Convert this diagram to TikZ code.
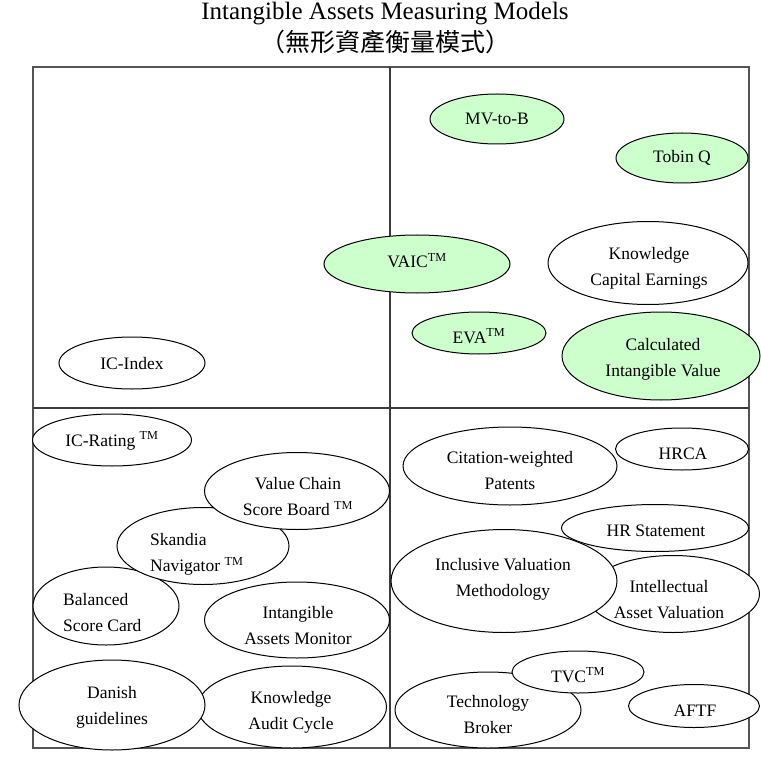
\documentclass[tikz,border=0pt]{standalone}
\usepackage{fontspec}
\setmainfont{Liberation Serif}
\newfontfamily\cjkfont{Noto Sans CJK TC}
\usetikzlibrary{shapes.geometric}
\definecolor{lgreen}{RGB}{204,255,204}
\definecolor{framegray}{RGB}{85,85,85}
\definecolor{divgray}{RGB}{60,60,60}
\newcommand{\twoc}[2]{\begin{tabular}[t]{@{}c@{}}#1\\#2\end{tabular}}
\newcommand{\twoleft}[2]{\begin{tabular}[t]{@{}l@{}}#1\\#2\end{tabular}}
\begin{document}
\begin{tikzpicture}[x=1pt,y=-1pt,
  oval/.style={ellipse, draw=black, line width=1pt, inner sep=0pt, fill=white},
  goval/.style={oval, fill=lgreen},
  lbl/.style={font=\fontsize{17.5}{26.8}\selectfont, inner sep=0pt, anchor=base},
  lbll/.style={lbl, anchor=base west},
  frameline/.style={draw=framegray, line width=1.4pt},
  divline/.style={draw=divgray, line width=2pt}
]
\useasboundingbox (0,0) rectangle (760,775);
% title
\node[font=\fontsize{25}{28}\selectfont, inner sep=0pt, anchor=base] (title) at (385,20) {Intangible Assets Measuring Models};
\node[font=\cjkfont\fontsize{25}{27}\selectfont, inner sep=0pt] (subtitle) at (385,42) {（無形資產衡量模式）};
% frame
\coordinate (tl) at (33,67);
\coordinate (br) at (749,748);
\coordinate (vt) at (390,67);
\coordinate (vb) at (390,748);
\coordinate (hl) at (33,408);
\coordinate (hr) at (749,408);
\draw[frameline] (tl) rectangle (br);
\draw[divline] (vt) -- (vb);
\draw[divline] (hl) -- (hr);
% top-left
\node[oval, minimum width=146, minimum height=52] (icindex) at (132,363) {};
\node[lbl] (ticindex) at (132,369) {IC-Index};
% top-right
\node[goval, minimum width=134, minimum height=50] (mvb) at (497,119) {};
\node[lbl] (tmvb) at (497,125) {MV-to-B};
\node[goval, minimum width=132, minimum height=50] (tobin) at (682,158) {};
\node[lbl] (ttobin) at (682,163) {Tobin Q};
\node[goval, minimum width=186, minimum height=58] (vaic) at (417,264) {};
\node[lbl] (tvaic) at (417,268) {VAIC\textsuperscript{TM}};
\node[oval, minimum width=200, minimum height=83] (kce) at (648,263) {};
\node[lbl] (tkce) at (649,259) {\twoc{Knowledge}{Capital Earnings}};
\node[goval, minimum width=134, minimum height=42] (eva) at (479,333) {};
\node[lbl] (teva) at (479,343) {EVA\textsuperscript{TM}};
\node[goval, minimum width=198, minimum height=88] (civ) at (661,356) {};
\node[lbl] (tciv) at (663,350) {\twoc{Calculated}{Intangible Value}};
% bottom-left
\node[oval, minimum width=159, minimum height=52] (icr) at (112,440) {};
\node[lbl] (ticr) at (112,446) {IC-Rating \textsuperscript{TM}};
\node[oval, minimum width=146, minimum height=78] (bsc) at (106,606) {};
\node[lbll] (tbsc) at (63,605) {\twoleft{Balanced}{Score Card}};
\node[oval, minimum width=172, minimum height=77] (skandia) at (203,546) {};
\node[lbll] (tskandia) at (150,545) {\twoleft{Skandia}{Navigator \textsuperscript{TM}}};
\node[oval, minimum width=185, minimum height=77] (vcsb) at (297,491) {};
\node[lbl] (tvcsb) at (298,489) {\twoc{Value Chain}{Score Board \textsuperscript{TM}}};
\node[oval, minimum width=185, minimum height=76] (iam) at (297,620) {};
\node[lbl] (tiam) at (298,618) {\twoc{Intangible}{Assets Monitor}};
\node[oval, minimum width=189, minimum height=82] (kac) at (292,707) {};
\node[lbl] (tkac) at (291,703) {\twoc{Knowledge}{Audit Cycle}};
\node[oval, minimum width=186, minimum height=90] (danish) at (112,705) {};
\node[lbl] (tdanish) at (112,698) {\twoc{Danish}{guidelines}};
% bottom-right
\node[oval, minimum width=214, minimum height=78] (cwp) at (510,466) {};
\node[lbl] (tcwp) at (510,463) {\twoc{Citation-weighted}{Patents}};
\node[oval, minimum width=133, minimum height=42] (hrca) at (682,449) {};
\node[lbl] (thrca) at (683,459) {HRCA};
\node[oval, minimum width=187, minimum height=47] (hrs) at (655,528) {};
\node[lbl] (thrs) at (656,536) {HR Statement};
\node[oval, minimum width=173, minimum height=77] (iav) at (673,594) {};
\node[lbl] (tiav) at (669,592) {\twoc{Intellectual}{Asset Valuation}};
\node[oval, minimum width=226, minimum height=103] (ivm) at (504,581) {};
\node[lbl] (tivm) at (503,570) {\twoc{Inclusive Valuation}{Methodology}};
\node[oval, minimum width=186, minimum height=76] (tb) at (488,710) {};
\node[lbl] (ttb) at (488,707) {\twoc{Technology}{Broker}};
\node[oval, minimum width=132, minimum height=42] (tvc) at (578,672) {};
\node[lbl] (ttvc) at (578,682) {TVC\textsuperscript{TM}};
\node[oval, minimum width=131, minimum height=43] (aftf) at (694,706) {};
\node[lbl] (taftf) at (695,716) {AFTF};
\end{tikzpicture}
\end{document}
